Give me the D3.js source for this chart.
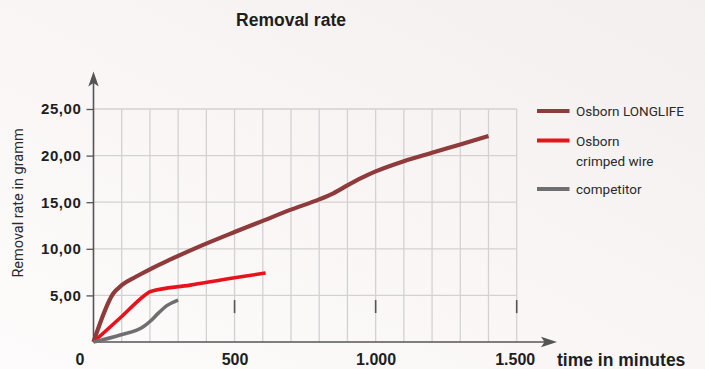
<!DOCTYPE html>
<html>
<head>
<meta charset="utf-8">
<script src="https://cdn.jsdelivr.net/npm/d3@7"></script>
<style>
  html, body { margin: 0; padding: 0; }
  body { width: 705px; height: 369px; overflow: hidden; }
  svg { display: block; }
</style>
</head>
<body>
<svg id="chart" width="705" height="369"></svg>
<script>
// Removal rate over time, in gramm per minutes of use
const seriesNames = ["Osborn LONGLIFE", "Osborn\ncrimped wire", "competitor"];
const seriesColors = ["#8f3b3c", "#e8121d", "#6f6f71"];

// [minutes, gramm]
const longlife = [[0,0],[70,5.2],[100,6.1],[150,7.0],[200,7.8],[265,8.75],[360,10.05],[500,11.8],[600,13.0],[700,14.2],[800,15.3],[850,15.95],[900,16.8],[950,17.6],[1000,18.3],[1100,19.4],[1200,20.3],[1300,21.2],[1400,22.1]];
const crimped = [[0,0],[95,2.6],[190,5.2],[200,5.4],[343,6.1],[500,6.9],[610,7.4]];
const competitor = [[0,0],[95,0.75],[175,1.6],[200,2.2],[230,3.1],[260,3.9],[300,4.5]];

const yTicks = [5, 10, 15, 20, 25];
const xTicks = [0, 500, 1000, 1500];
const xGrid = d3.range(100, 1501, 100);
const xMarks = [500, 1000, 1500];

const svg = d3.select("#chart");

// background wash
const defs = svg.append("defs");
const grad = defs.append("linearGradient").attr("id", "bg")
  .attr("x1", "0%").attr("y1", "100%").attr("x2", "100%").attr("y2", "0%");
grad.append("stop").attr("offset", "0%").attr("stop-color", "#fdfbfb");
grad.append("stop").attr("offset", "45%").attr("stop-color", "#faf6f6");
grad.append("stop").attr("offset", "100%").attr("stop-color", "#f4efef");
svg.append("rect").attr("width", 705).attr("height", 369).attr("fill", "url(#bg)");

const x = d3.scaleLinear().domain([0, 1500]).range([93.5, 516.7]);
const y = d3.scaleLinear().domain([0, 25]).range([342, 109]);

// grid
const grid = svg.append("g").attr("stroke", "#d3d1d2").attr("stroke-width", 1.3);
grid.selectAll("line.v").data(xGrid).join("line")
  .attr("x1", d => x(d)).attr("x2", d => x(d))
  .attr("y1", y(0)).attr("y2", y(25));
grid.selectAll("line.h").data(yTicks).join("line")
  .attr("x1", x(0)).attr("x2", x(1500))
  .attr("y1", d => y(d)).attr("y2", d => y(d));

// short marks on the time axis
svg.append("g").selectAll("line").data(xMarks).join("line")
  .attr("x1", d => x(d)).attr("x2", d => x(d))
  .attr("y1", y(4.5)).attr("y2", y(3.1))
  .attr("stroke", "#555").attr("stroke-width", 1.6);

// y axis with ticks and labels
const yAxis = d3.axisLeft(y).tickValues(yTicks).tickSize(7).tickPadding(5)
  .tickFormat(d => d3.format(".2f")(d).replace(".", ","));
const gy = svg.append("g").attr("transform", `translate(${x(0)},0)`).call(yAxis);
gy.select(".domain").remove();
gy.selectAll(".tick line").attr("stroke", "#555").attr("stroke-width", 1.3);
gy.selectAll(".tick text")
  .attr("fill", "#1e1e1e")
  .style("font-family", "'Liberation Sans', Arial, sans-serif")
  .style("font-weight", "bold").style("font-size", "15px")
  .style("letter-spacing", "0.6px");

// x axis labels
const xAxis = d3.axisBottom(x).tickValues(xTicks).tickSize(0).tickPadding(12)
  .tickFormat(d => d3.format(",")(d).replace(",", "."));
const gx = svg.append("g").attr("transform", `translate(0,${y(0)})`).call(xAxis);
gx.select(".domain").remove();
gx.selectAll(".tick text")
  .attr("fill", "#1e1e1e")
  .attr("dx", d => d === 0 ? -14 : (d === 1500 ? -2 : 0))
  .style("font-family", "'Liberation Sans', Arial, sans-serif")
  .style("font-weight", "bold").style("font-size", "16px");

// axis lines with arrow heads
const axisColor = "#555557";
svg.append("line").attr("x1", x(0)).attr("x2", x(0)).attr("y1", y(0)).attr("y2", 80)
  .attr("stroke", axisColor).attr("stroke-width", 1.6);
svg.append("path")
  .attr("d", `M${x(0)},71.5 L${x(0) + 5.2},86.5 L${x(0)},83 L${x(0) - 5.2},86.5 Z`)
  .attr("fill", axisColor);
svg.append("line").attr("x1", x(0)).attr("x2", 548).attr("y1", y(0)).attr("y2", y(0))
  .attr("stroke", axisColor).attr("stroke-width", 1.6);
svg.append("path")
  .attr("d", `M557,${y(0)} L541,${y(0) - 5.2} L544.5,${y(0)} L541,${y(0) + 5.2} Z`)
  .attr("fill", axisColor);

// series lines
const line = d3.line().x(d => x(d[0])).y(d => y(d[1])).curve(d3.curveMonotoneX);
const series = [longlife, crimped, competitor];
const widths = [4.2, 3.6, 3.6];
svg.append("g").selectAll("path").data(series.map((s, i) => i)).join("path")
  .attr("d", i => line(series[i]))
  .attr("fill", "none")
  .attr("stroke", i => seriesColors[i])
  .attr("stroke-width", i => widths[i])
  .attr("stroke-linejoin", "round");

// title
svg.append("text").attr("x", 291).attr("y", 26).attr("text-anchor", "middle")
  .attr("fill", "#1e1e1e")
  .style("font-family", "'Liberation Sans', Arial, sans-serif")
  .style("font-weight", "bold").style("font-size", "17.5px")
  .text("Removal rate");

// axis titles
svg.append("text").attr("transform", "translate(23,203) rotate(-90)")
  .attr("text-anchor", "middle").attr("fill", "#2a2a2a")
  .style("font-family", "Roboto, sans-serif").style("font-size", "14.5px")
  .text("Removal rate in gramm");
svg.append("text").attr("x", 557).attr("y", 366)
  .attr("fill", "#1e1e1e")
  .style("font-family", "'Liberation Sans', Arial, sans-serif")
  .style("font-weight", "bold").style("font-size", "17.5px")
  .text("time in minutes");

// legend
const legendY = [111, 140.5, 189];
const legend = svg.append("g");
seriesNames.forEach((name, i) => {
  legend.append("line").attr("x1", 537).attr("x2", 569.5)
    .attr("y1", legendY[i]).attr("y2", legendY[i])
    .attr("stroke", seriesColors[i]).attr("stroke-width", 4);
  const t = legend.append("text").attr("x", 576).attr("y", legendY[i] + 5)
    .attr("fill", "#2a2a2a")
    .style("font-family", "Roboto, sans-serif").style("font-size", "13.5px");
  name.split("\n").forEach((part, j) => {
    t.append("tspan").attr("x", 576).attr("dy", j === 0 ? 0 : 20).text(part);
  });
});
</script>
</body>
</html>
